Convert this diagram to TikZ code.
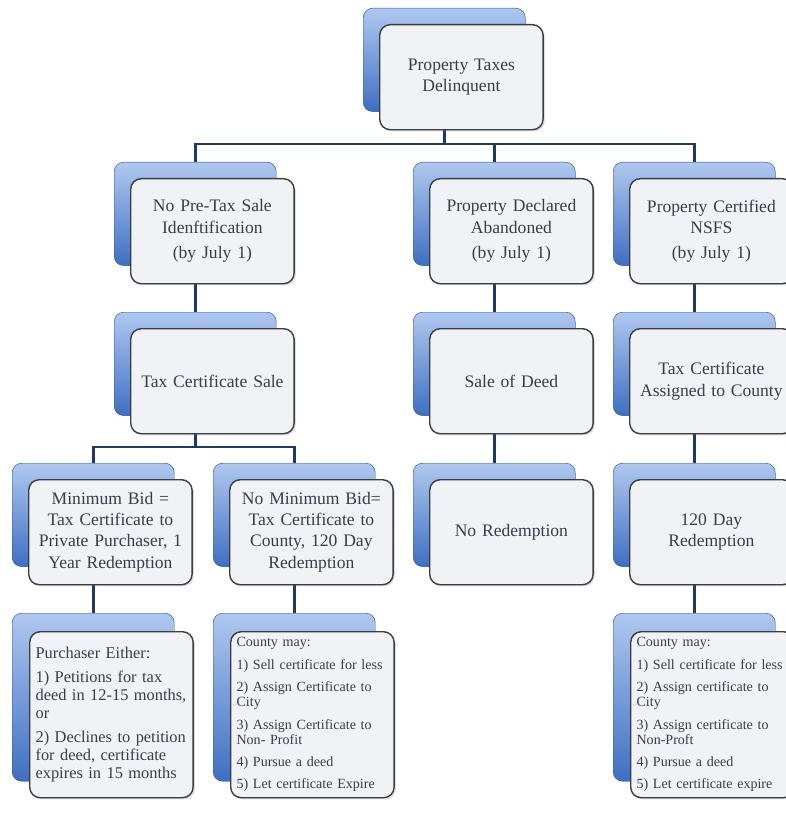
\documentclass[tikz,border=0pt]{standalone}
\usepackage{fontspec}
\setmainfont{Liberation Serif}
\usetikzlibrary{shadows,backgrounds}

\definecolor{linkblue}{HTML}{203864}
\definecolor{cardtop}{HTML}{AFC8EF}
\definecolor{cardbot}{HTML}{3F6FC2}
\definecolor{cardedge}{HTML}{2E5597}
\definecolor{facefill}{HTML}{F1F2F5}
\definecolor{faceedge}{HTML}{3A3E44}
\definecolor{inktext}{HTML}{3B3B4A}

\tikzset{
    back/.style={anchor=north west, rounded corners=8pt, top color=cardtop, bottom color=cardbot,
        draw=cardedge, minimum width=4.86cm, minimum height=3.1cm, inner sep=0pt},
    face/.style={anchor=north west, rounded corners=9pt, fill=facefill, draw=faceedge, line width=1.2pt,
        minimum width=4.9cm, minimum height=3.15cm, inner xsep=4pt, text width=4.62cm, align=center,
        font=\fontsize{15}{18}\selectfont, text=inktext,
        drop shadow={opacity=.25, shadow xshift=1.5pt, shadow yshift=-1.5pt}},
    listback/.style={back, minimum height=5.04cm},
    listface/.style={face, minimum height=4.98cm, inner xsep=5pt, text width=4.55cm, align=left},
    link/.style={draw=linkblue, line width=2.3pt},
}

\begin{document}
\begin{tikzpicture}[x=0.03cm, y=-0.03cm]

    \useasboundingbox (0,0) rectangle (785,820);

    % cards with short texts
    \foreach \nm/\x/\y/\txt in {
        taxes/363/8/{Property Taxes\\Delinquent},
        nopre/114/162/{No Pre-Tax Sale\\Idenftification\\[4pt](by July 1)},
        abandon/413/162/{Property Declared\\Abandoned\\[4pt](by July 1)},
        nsfs/613/162/{Property Certified\\NSFS\\[4pt](by July 1)},
        certsale/114/312/{Tax Certificate Sale},
        deedsale/413/312/{Sale of Deed},
        assigned/613/312/{Tax Certificate\\Assigned to County},
        minbid/12/463/{Minimum Bid =\\Tax Certificate to\\Private Purchaser, 1\\Year Redemption},
        nominbid/213/463/{No Minimum Bid=\\Tax Certificate to\\County, 120 Day\\Redemption},
        noredeem/413/463/{No Redemption},
        redeem/613/463/{120 Day\\Redemption}}
    {
        \node[back] (\nm-bk) at (\x,\y) {};
        \node[face] (\nm) at (\x+16,\y+16) {\txt};
    }

    % cards with lists
    \foreach \nm/\x/\y/\fs/\txt in {
        purchaser/12/613/{\fontsize{14}{15.5}\selectfont}/{Purchaser Either:\\[5pt]1) Petitions for tax\\deed in 12-15 months,\\or\\[5pt]2) Declines to petition\\for deed, certificate\\expires in 15 months},
        countyA/213/613/{\fontsize{12}{13}\selectfont}/{County may:\\[6pt]1) Sell certificate for less\\[6pt]2) Assign Certificate to\\City\\[6pt]3) Assign Certificate to\\Non- Profit\\[6pt]4) Pursue a deed\\[6pt]5) Let certificate Expire},
        countyB/613/613/{\fontsize{12}{13}\selectfont}/{County may:\\[6pt]1) Sell certificate for less\\[6pt]2) Assign certificate to\\City\\[6pt]3) Assign certificate to\\Non-Proft\\[6pt]4) Pursue a deed\\[6pt]5) Let certificate expire}}
    {
        \node[listback] (\nm-bk) at (\x,\y) {};
        \node[listface, font=\fs] (\nm) at (\x+17,\y+18) {\txt};
    }

    % connectors
    \coordinate (bus1) at (0,144);
    \coordinate (bus2) at (0,447);
    \begin{scope}[on background layer]
        \draw[link] (taxes-bk.center) -- (taxes-bk.center |- bus1) -| (nopre-bk.center);
        \draw[link] (taxes-bk.center |- bus1) -| (abandon-bk.center);
        \draw[link] (taxes-bk.center |- bus1) -| (nsfs-bk.center);
        \draw[link] (nopre-bk) -- (certsale-bk);
        \draw[link] (certsale-bk.center) -- (certsale-bk.center |- bus2) -| (minbid-bk.center);
        \draw[link] (certsale-bk.center |- bus2) -| (nominbid-bk.center);
        \draw[link] (minbid-bk) -- (purchaser-bk);
        \draw[link] (nominbid-bk) -- (countyA-bk);
        \draw[link] (abandon-bk) -- (deedsale-bk) -- (noredeem-bk);
        \draw[link] (nsfs-bk) -- (assigned-bk) -- (redeem-bk) -- (countyB-bk);
    \end{scope}

\end{tikzpicture}
\end{document}
